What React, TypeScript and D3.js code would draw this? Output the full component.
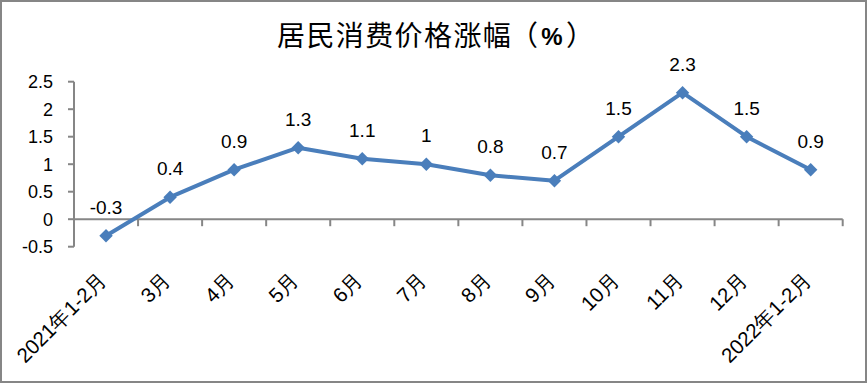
import React from "react";
import * as d3 from "d3";

const categories = ["2021年1-2月", "3月", "4月", "5月", "6月", "7月", "8月", "9月", "10月", "11月", "12月", "2022年1-2月"];
const values = [-0.3, 0.4, 0.9, 1.3, 1.1, 1.0, 0.8, 0.7, 1.5, 2.3, 1.5, 0.9];
const labels = ["-0.3", "0.4", "0.9", "1.3", "1.1", "1", "0.8", "0.7", "1.5", "2.3", "1.5", "0.9"];
const yTicks = [-0.5, 0, 0.5, 1, 1.5, 2, 2.5];
const yTickLabels = ["-0.5", "0", "0.5", "1", "1.5", "2", "2.5"];
const titleMain = "居民消费价格涨幅";
const titleOpen = "（";
const titlePct = "%";
const titleClose = "）";

const W = 867;
const H = 384;
const plotLeft = 74;
const plotRight = 842.7;
const yTop = 81.7;
const yBottom = 246.7;

export default function App() {
  const x = d3.scaleBand<string>().domain(categories).range([plotLeft, plotRight]).paddingInner(0).paddingOuter(0);
  const y = d3.scaleLinear().domain([-0.5, 2.5]).range([yBottom, yTop]);
  const cx = (c: string) => (x(c) as number) + x.bandwidth() / 2;
  const line = d3
    .line<number>()
    .x((_, i) => cx(categories[i]))
    .y((d) => y(d));
  const diamond = d3.symbol().type(d3.symbolDiamond2).size(115)();
  const axisColor = "#868686";
  const y0 = y(0);
  const tickXs = categories.map((c) => x(c) as number).concat([plotRight]);
  const font = "'Liberation Sans', Arial, sans-serif";
  const cjk = "'Noto Sans CJK SC', sans-serif";

  return (
    <svg width={W} height={H} style={{ position: "absolute", left: 0, top: 0 }}>
      <rect x={0} y={0} width={W} height={H} fill="#fff" />
      <rect x={1} y={1} width={865} height={381} fill="none" stroke={axisColor} strokeWidth={2} />
      <text x={277} y={46} fontFamily={cjk} fontSize={28} fontWeight={400} letterSpacing={1.4} fill="#000">
        {titleMain}
      </text>
      <text x={538} y={46} textAnchor="end" fontFamily={cjk} fontSize={28} fill="#000">
        {titleOpen}
      </text>
      <text x={552} y={45} textAnchor="middle" fontFamily={font} fontSize={24} fontWeight="bold" fill="#000">
        {titlePct}
      </text>
      <text x={566} y={46} textAnchor="start" fontFamily={cjk} fontSize={28} fill="#000">
        {titleClose}
      </text>
      {/* y axis */}
      <line x1={plotLeft} x2={plotLeft} y1={yTop} y2={yBottom} stroke={axisColor} strokeWidth={2} />
      {yTicks.map((t, i) => (
        <g key={t}>
          <line x1={plotLeft - 6} x2={plotLeft} y1={y(t)} y2={y(t)} stroke={axisColor} strokeWidth={2} />
          <text x={53} y={y(t) + 6.5} textAnchor="end" fontFamily={font} fontSize={18} fill="#000">
            {yTickLabels[i]}
          </text>
        </g>
      ))}
      {/* x axis */}
      <line x1={plotLeft} x2={plotRight} y1={y0} y2={y0} stroke={axisColor} strokeWidth={2} />
      {tickXs.map((tx, i) => (
        <line key={i} x1={tx} x2={tx} y1={y0} y2={y0 + 7} stroke={axisColor} strokeWidth={2} />
      ))}
      {categories.map((c) => (
        <text
          key={c}
          transform={`translate(${cx(c) + 2},${281}) rotate(-45)`}
          textAnchor="end"
          fontFamily={font}
          fontSize={20.5}
          fill="#000"
        >
          {c}
        </text>
      ))}
      {/* line */}
      <path d={line(values) || ""} fill="none" stroke="#4A7EBB" strokeWidth={4} strokeLinejoin="round" />
      {values.map((v, i) => (
        <path key={i} d={diamond || ""} transform={`translate(${cx(categories[i])},${y(v)})`} fill="#4A7EBB" />
      ))}
      {values.map((v, i) => (
        <text
          key={"l" + i}
          x={cx(categories[i])}
          y={y(v) - 22}
          textAnchor="middle"
          fontFamily={font}
          fontSize={19}
          fill="#000"
        >
          {labels[i]}
        </text>
      ))}
    </svg>
  );
}
